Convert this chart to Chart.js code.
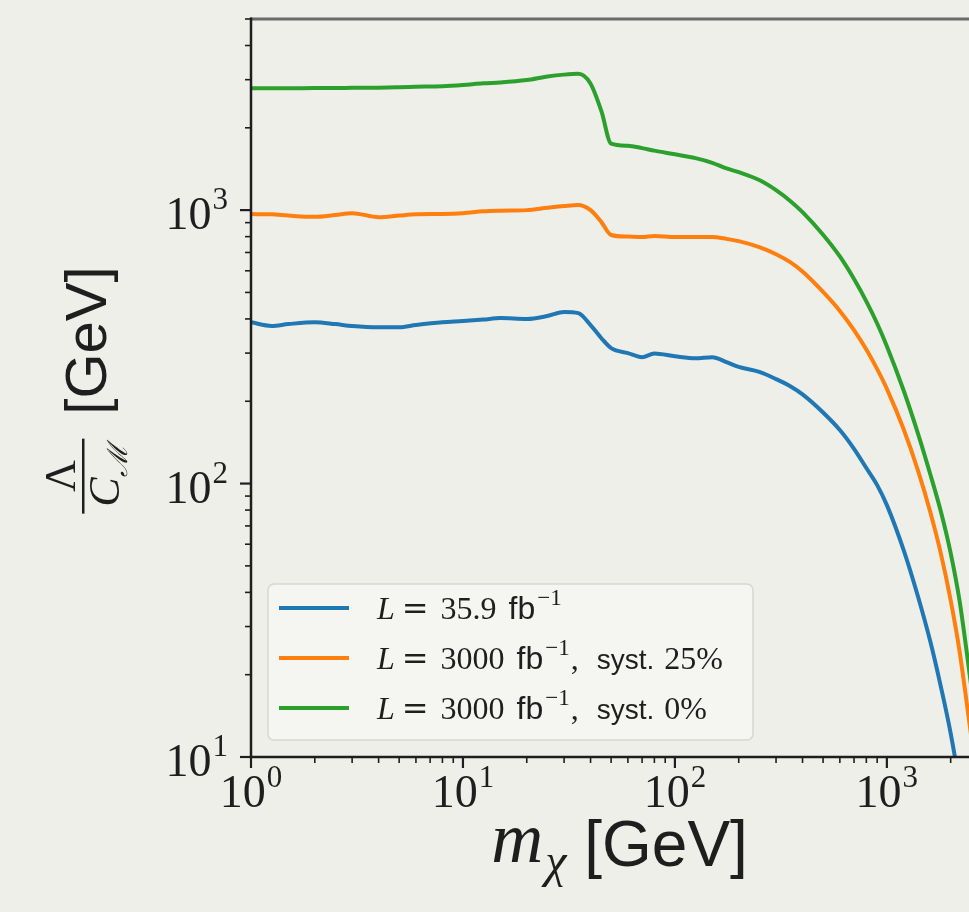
<!DOCTYPE html>
<html>
<head>
<meta charset="utf-8">
<script src="https://cdn.jsdelivr.net/npm/chart.js@4.4.1/dist/chart.umd.min.js"></script>
<style>
  html, body { margin: 0; padding: 0; background: #efefea; overflow: hidden; }
  #wrap { width: 1000px; height: 912px; }
</style>
</head>
<body>
<div id="wrap"><canvas id="chart" width="1000" height="912"></canvas></div>
<script>
// dark matter mass m_chi [GeV]
const masses = [1, 1.25, 1.5, 2, 2.5, 3, 4, 5, 6, 8, 10, 12.5, 15, 20, 25, 30, 35, 40, 45, 50,
                60, 70, 80, 100, 125, 150, 175, 200, 250, 300, 350, 400, 500, 600, 700, 800, 900, 1000,
                1200, 1400, 1600, 1800, 2000, 2200, 2500];

// Lambda / C_M limits [GeV]
const lim36 = [389, 377, 383, 389, 383, 377, 373, 373, 380, 389, 393, 398, 403, 400, 410, 424, 420, 380, 340, 313,
               300, 290, 299, 292, 287, 290, 278, 267, 256, 241, 227, 212, 182, 157, 134, 114, 98.7, 83.4,
               57.1, 38.8, 26.6, 18, 12.2, 7.9, 3.8];
const lim3000s25 = [967, 965, 955, 945, 960, 975, 942, 955, 965, 968, 975, 990, 995, 1000, 1020, 1035, 1044, 1000, 904, 811,
                    800, 797, 805, 797, 797, 797, 785, 770, 732, 690, 645, 596, 502, 428, 364, 309, 262, 222,
                    158, 112, 79, 55.2, 37.4, 24.5, 11.9];
const lim3000s0 = [2790, 2790, 2790, 2795, 2795, 2800, 2805, 2815, 2825, 2840, 2870, 2910, 2930, 2990, 3080, 3130, 3150, 2900, 2300, 1750,
                   1720, 1686, 1650, 1600, 1550, 1490, 1420, 1377, 1288, 1183, 1080, 983, 813, 677, 560, 464, 385, 318,
                   219, 153, 108.6, 78.7, 55.7, 37.5, 18.2];

const seriesNames = ['L = 35.9 fb⁻¹', 'L = 3000 fb⁻¹, syst. 25%', 'L = 3000 fb⁻¹, syst. 0%'];
const lumis = ['35.9', '3000', '3000'];
const systs = ['', '25%', '0%'];
const colors = ['#1f77b4', '#ff7f0e', '#2ca02c'];

const xMajor = [1, 10, 100, 1000];
const yMajor = [10, 100, 1000];
const xRange = [1, 3000];
const yRange = [10, 5000];

const SERIF = '"Liberation Serif", "DejaVu Serif", serif';
const SANS = '"Liberation Sans", Arial, sans-serif';
const INK = '#1e1e1e';

function minorValues(lo, hi) {
  const out = [];
  for (let d = Math.pow(10, Math.floor(Math.log10(lo))); d < hi; d *= 10) {
    for (let m = 2; m <= 9; m++) {
      const v = m * d;
      if (v > lo && v <= hi * 1.0001) out.push(v);
    }
  }
  return out;
}

function powerLabel(ctx, base, x, y, align) {
  const exp = String(Math.round(Math.log10(base)));
  ctx.font = '46px ' + SERIF;
  const bw = ctx.measureText('10').width;
  ctx.font = '31px ' + SERIF;
  const ew = ctx.measureText(exp).width;
  const total = bw + 1 + ew;
  const x0 = align === 'right' ? x - total : x - total / 2;
  ctx.textAlign = 'left';
  ctx.font = '46px ' + SERIF;
  ctx.fillText('10', x0, y);
  ctx.font = '31px ' + SERIF;
  ctx.fillText(exp, x0 + bw + 1, y - 20);
}

// draw a row of text pieces with their own fonts
function runs(ctx, x, y, parts) {
  parts.forEach(p => {
    x += p.gap || 0;
    ctx.font = p.font;
    ctx.fillText(p.text, x, y + (p.dy || 0));
    x += ctx.measureText(p.text).width;
  });
  return x;
}

const decorations = {
  id: 'decorations',
  afterDraw(chart) {
    const ctx = chart.ctx;
    const { left, right, top, bottom } = chart.chartArea;
    const xs = chart.scales.x, ys = chart.scales.y;
    ctx.save();

    // legend box
    const bx = left + 17, by = bottom - 173, bw = 485, bh = 156;
    ctx.fillStyle = 'rgba(246, 246, 243, 0.85)';
    ctx.strokeStyle = '#d6d6d2';
    ctx.lineWidth = 1.5;
    ctx.beginPath();
    ctx.roundRect(bx, by, bw, bh, 6);
    ctx.fill();
    ctx.stroke();
    chart.data.datasets.forEach((ds, i) => {
      const ry = by + 24 + i * 50;
      ctx.strokeStyle = ds.borderColor;
      ctx.lineWidth = 4;
      ctx.beginPath();
      ctx.moveTo(bx + 11, ry);
      ctx.lineTo(bx + 81, ry);
      ctx.stroke();
      ctx.fillStyle = INK;
      ctx.textAlign = 'left';
      ctx.textBaseline = 'alphabetic';
      const parts = [
        { text: 'L', font: 'italic 32px ' + SERIF },
        { text: '=', font: '32px "DejaVu Serif", serif', gap: 7 },
        { text: lumis[i], font: '32px ' + SERIF, gap: 12 },
        { text: 'fb', font: '32px ' + SANS, gap: 12 },
        { text: '−1', font: '23px ' + SERIF, dy: -14, gap: 2 }
      ];
      if (systs[i]) {
        parts.push({ text: ',', font: '32px ' + SERIF, gap: 1 });
        parts.push({ text: 'syst.', font: '28px ' + SANS, gap: 18 });
        parts.push({ text: systs[i], font: '32px ' + SERIF, gap: 10 });
      }
      runs(ctx, bx + 109, ry + 11, parts);
    });

    // spines
    ctx.lineCap = 'butt';
    ctx.strokeStyle = '#6a6a6a';
    ctx.lineWidth = 3;
    ctx.beginPath();
    ctx.moveTo(left - 1, top);
    ctx.lineTo(right, top);
    ctx.lineTo(right, bottom);
    ctx.stroke();
    ctx.strokeStyle = INK;
    ctx.lineWidth = 2.5;
    ctx.beginPath();
    ctx.moveTo(left, top - 1.5);
    ctx.lineTo(left, bottom);
    ctx.lineTo(right, bottom);
    ctx.stroke();

    // ticks
    const tick = (x1, y1, x2, y2, w) => {
      ctx.lineWidth = w;
      ctx.beginPath();
      ctx.moveTo(x1, y1);
      ctx.lineTo(x2, y2);
      ctx.stroke();
    };
    xMajor.forEach(v => { const p = xs.getPixelForValue(v); tick(p, bottom, p, bottom + 11, 2.2); });
    minorValues(xRange[0], xRange[1]).forEach(v => { const p = xs.getPixelForValue(v); tick(p, bottom, p, bottom + 6, 1.6); });
    yMajor.forEach(v => { const p = ys.getPixelForValue(v); tick(left, p, left - 11, p, 2.2); });
    minorValues(yRange[0], yRange[1]).forEach(v => { const p = ys.getPixelForValue(v); tick(left, p, left - 6, p, 1.6); });

    // tick labels
    ctx.fillStyle = INK;
    ctx.textBaseline = 'alphabetic';
    xMajor.forEach(v => powerLabel(ctx, v, xs.getPixelForValue(v), bottom + 50, 'center'));
    yMajor.forEach(v => powerLabel(ctx, v, left - 23, ys.getPixelForValue(v) + 19, 'right'));

    // x title: m_chi [GeV]
    ctx.font = 'italic 72px ' + SERIF;
    const mw = ctx.measureText('m').width;
    ctx.font = 'italic 48px ' + SERIF;
    const cw = ctx.measureText('χ').width;
    ctx.font = '64px ' + SANS;
    const gw = ctx.measureText('[GeV]').width;
    const xGap = 20;
    const xt = (left + right) / 2 - (mw + cw + xGap + gw) / 2;
    ctx.textAlign = 'left';
    ctx.font = 'italic 72px ' + SERIF;
    ctx.fillText('m', xt, 862);
    ctx.font = 'italic 48px ' + SERIF;
    ctx.fillText('χ', xt + mw + 2, 877);
    ctx.font = '64px ' + SANS;
    ctx.fillText('[GeV]', xt + mw + cw + xGap, 866);

    // y title: Lambda / C_M [GeV]
    ctx.save();
    ctx.translate(0, (top + bottom) / 2 + 2);
    ctx.rotate(-Math.PI / 2);
    ctx.font = '58px ' + SANS;
    const gw2 = ctx.measureText('[GeV]').width;
    const fracW = 75, gap = 24;
    const u0 = -(fracW + gap + gw2) / 2;
    ctx.fillRect(u0, 82, fracW, 2.5);
    ctx.font = '44px ' + SERIF;
    ctx.textAlign = 'center';
    ctx.fillText('Λ', u0 + fracW / 2, 75);
    ctx.textAlign = 'left';
    ctx.font = 'italic 44px ' + SERIF;
    const cW = ctx.measureText('C').width;
    ctx.font = 'italic 28px ' + SERIF;
    const sW = ctx.measureText('ℳ').width;
    const c0 = u0 + fracW / 2 - (cW + sW) / 2;
    ctx.font = 'italic 44px ' + SERIF;
    ctx.fillText('C', c0, 119);
    ctx.font = 'italic 28px ' + SERIF;
    ctx.fillText('ℳ', c0 + cW, 127);
    ctx.font = '58px ' + SANS;
    ctx.fillText('[GeV]', u0 + fracW + gap, 106);
    ctx.restore();

    ctx.restore();
  }
};

const seriesValues = [lim36, lim3000s25, lim3000s0];

new Chart(document.getElementById('chart').getContext('2d'), {
  type: 'line',
  data: {
    datasets: seriesValues.map((vals, i) => ({
      label: seriesNames[i],
      data: masses.map((m, j) => ({ x: m, y: vals[j] })),
      borderColor: colors[i],
      backgroundColor: colors[i],
      borderWidth: 4,
      pointRadius: 0,
      cubicInterpolationMode: 'monotone',
      fill: false
    }))
  },
  options: {
    responsive: false,
    animation: false,
    layout: { padding: { left: 251, top: 19, right: 12, bottom: 155 } },
    scales: {
      x: { type: 'logarithmic', min: xRange[0], max: xRange[1], display: false },
      y: { type: 'logarithmic', min: yRange[0], max: yRange[1], display: false }
    },
    plugins: {
      legend: { display: false },
      tooltip: { enabled: false }
    }
  },
  plugins: [decorations]
});
</script>
</body>
</html>
